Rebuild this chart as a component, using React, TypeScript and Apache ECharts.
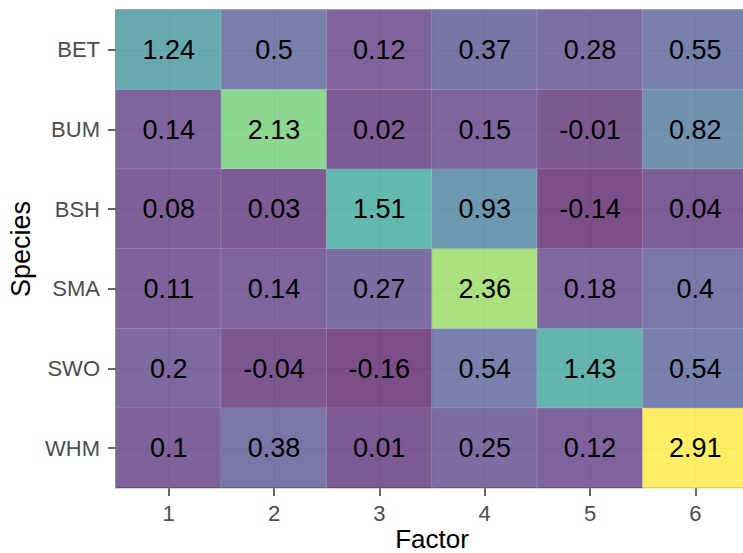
import React, { useEffect, useRef } from "react";
import * as echarts from "echarts";

const factors = ["1", "2", "3", "4", "5", "6"];
const species = ["BET", "BUM", "BSH", "SMA", "SWO", "WHM"];
const BET = [1.24, 0.5, 0.12, 0.37, 0.28, 0.55];
const BUM = [0.14, 2.13, 0.02, 0.15, -0.01, 0.82];
const BSH = [0.08, 0.03, 1.51, 0.93, -0.14, 0.04];
const SMA = [0.11, 0.14, 0.27, 2.36, 0.18, 0.4];
const SWO = [0.2, -0.04, -0.16, 0.54, 1.43, 0.54];
const WHM = [0.1, 0.38, 0.01, 0.25, 0.12, 2.91];
const rows = [BET, BUM, BSH, SMA, SWO, WHM];

const viridis = [
  "#440154", "#482878", "#3E4A89", "#31688E", "#26828E",
  "#1F9E89", "#35B779", "#6DCD59", "#B4DE2C", "#FDE725",
];

export default function App() {
  const ref = useRef<HTMLDivElement>(null);
  useEffect(() => {
    if (!ref.current) return;
    const chart = echarts.init(ref.current, undefined, { renderer: "svg" });
    const data: [number, number, number][] = [];
    rows.forEach((r, yi) => r.forEach((v, xi) => data.push([xi, yi, v])));
    const all = rows.flat();
    const font = "'Liberation Sans', Arial, sans-serif";
    chart.setOption({
      animation: false,
      backgroundColor: "#ffffff",
      textStyle: { fontFamily: font },
      grid: {
        left: 116, top: 10, width: 632, height: 478,
        outerBoundsMode: "none",
        containLabel: false,
        show: true, backgroundColor: "#ffffff", borderColor: "#333333", borderWidth: 1.2,
        z: 0,
      },
      visualMap: {
        show: false,
        min: Math.min(...all),
        max: Math.max(...all),
        dimension: 2,
        seriesIndex: 0,
        inRange: { color: viridis, colorAlpha: 0.7 },
      },
      xAxis: [
        {
          type: "category",
          data: factors,
          position: "bottom",
          name: "Factor",
          nameLocation: "middle",
          nameGap: 38,
          nameMoveOverlap: false,
          nameTextStyle: { color: "#000000", fontSize: 26, fontFamily: font, lineHeight: 26 },
          axisLine: { show: false },
          axisTick: { show: true, alignWithLabel: true, length: 8, lineStyle: { color: "#333333", width: 1.5 } },
          axisLabel: { color: "#4D4D4D", fontSize: 22, margin: 14, fontFamily: font },
          splitLine: { show: false },
        },
        {
          type: "value",
          min: 0, max: 12, interval: 1,
          position: "top",
          axisLine: { show: false }, axisTick: { show: false }, axisLabel: { show: false },
          splitLine: { show: true, lineStyle: { color: "#EBEBEB", width: 1 } },
        },
      ],
      yAxis: [
        {
          type: "category",
          data: species,
          inverse: true,
          name: "Species",
          nameLocation: "middle",
          nameGap: 82,
          nameMoveOverlap: false,
          nameTextStyle: { color: "#000000", fontSize: 27, fontFamily: font },
          axisLine: { show: false },
          axisTick: { show: true, alignWithLabel: true, length: 8, lineStyle: { color: "#333333", width: 1.5 } },
          axisLabel: { color: "#4D4D4D", fontSize: 22, margin: 16, fontFamily: font },
          splitLine: { show: false },
        },
        {
          type: "value",
          min: 0, max: 12, interval: 1,
          position: "right",
          axisLine: { show: false }, axisTick: { show: false }, axisLabel: { show: false },
          splitLine: { show: true, lineStyle: { color: "#EBEBEB", width: 1 } },
        },
      ],
      series: [
        {
          type: "heatmap",
          xAxisIndex: 0,
          yAxisIndex: 0,
          data,
          itemStyle: { borderColor: "rgba(255,255,255,0.25)", borderWidth: 1 },
          label: {
            show: true,
            color: "#000000",
            fontSize: 27,
            fontFamily: font,
            formatter: (p: any) => String(p.value[2]),
          },
          emphasis: { disabled: true },
        },
      ],
    });
    return () => chart.dispose();
  }, []);
  return <div ref={ref} style={{ position: "fixed", left: 0, top: 0, width: 743, height: 553 }} />;
}
